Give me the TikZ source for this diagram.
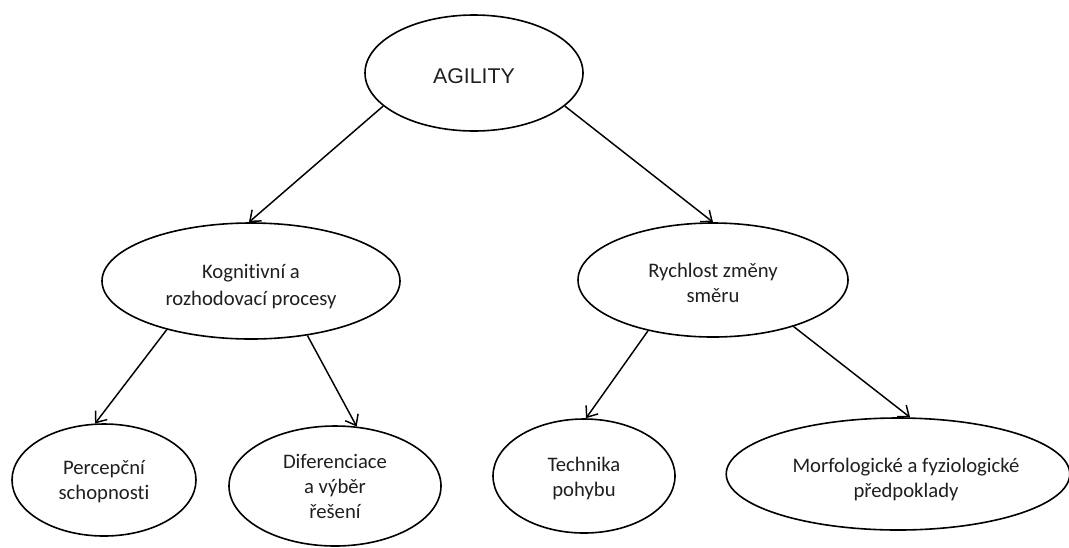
\documentclass[tikz,border=0pt]{standalone}
\usepackage{fontspec}
\setmainfont{Carlito}[Ligatures=CommonOff]
\newfontfamily\arialfont{Liberation Sans}
\usetikzlibrary{shapes.geometric,arrows.meta}
\newcommand{\lowtxt}[2][3.75pt]{\raisebox{-#1}[\height][\depth]{\begin{tabular}{@{}c@{}}#2\end{tabular}}}
\tikzset{
  oval/.style={ellipse, draw=black, line width=1.2pt, inner sep=0pt, align=center,
    font=\fontsize{15.5}{18.75}\selectfont, text=black!88},
  conn/.style={draw=black, line width=1.1pt, -{Straight Barb[length=7pt,width=11pt,line width=1.1pt]}}
}
\begin{document}
\begin{tikzpicture}[x=0.75pt,y=-0.75pt]
\useasboundingbox (0,0) rectangle (1069,547);
\node[oval, minimum width=163.5pt, minimum height=87pt, font=\arialfont\fontsize{16}{19}\selectfont] (agility) at (474,73) {\lowtxt{AGILITY}};
\node[oval, minimum width=223.5pt, minimum height=87pt] (kog) at (251,281) {\lowtxt[4.5pt]{Kognitivní a\\[2pt]rozhodovací procesy}};
\node[oval, minimum width=202.5pt, minimum height=85.5pt] (rych) at (713,280) {\lowtxt{Rychlost změny\\směru}};
\node[oval, minimum width=138pt, minimum height=84pt] (perc) at (104,480) {\lowtxt[1.5pt]{Percepční\\schopnosti}};
\node[oval, minimum width=159pt, minimum height=90pt] (dif) at (335,486) {\lowtxt[1.5pt]{Diferenciace\\a výběr\\řešení}};
\node[oval, minimum width=136.5pt, minimum height=85.5pt] (tech) at (584,476) {\lowtxt[2pt]{Technika\\pohybu}};
\node[oval, minimum width=256.5pt, minimum height=84pt] (morf) at (898,474) {\lowtxt[4.5pt]{\hspace*{12pt}Morfologické a fyziologické\\\hspace*{12pt}předpoklady}};
\draw[conn] (agility.200) -- (kog.92);
\draw[conn] (agility.340) -- (rych.90);
\draw[conn] (kog.210) -- (perc.99);
\draw[conn] (kog.316) -- (dif.70);
\draw[conn] (rych.218) -- (tech.88);
\draw[conn] (rych.330) -- (morf.78);
\end{tikzpicture}
\end{document}
